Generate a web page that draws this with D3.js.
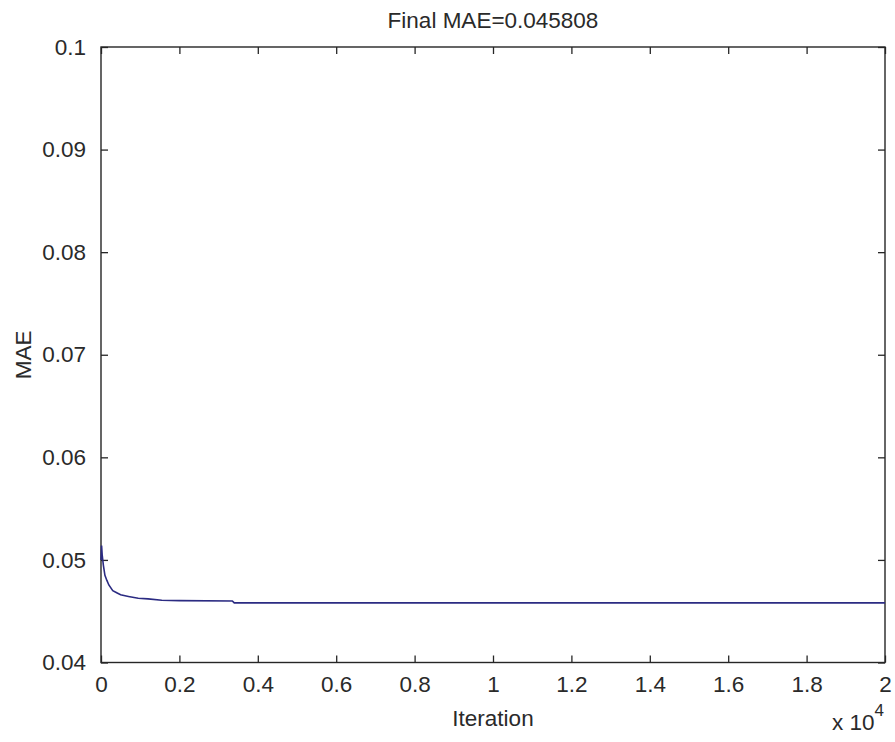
<!DOCTYPE html>
<html>
<head>
<meta charset="utf-8">
<script src="https://cdn.jsdelivr.net/npm/d3@7"></script>
<style>
  html, body { margin: 0; padding: 0; background: #fff; }
  svg { display: block; }
  text { font-family: "Liberation Sans", Arial, sans-serif; fill: #2a2a2a; }
</style>
</head>
<body>
<svg id="chart" width="895" height="742"></svg>
<script>
// Training curve: mean absolute error per iteration
const iterations = [1, 15, 30, 60, 100, 150, 200, 300, 400, 500, 700, 950, 1200, 1550, 2000, 3350, 3400, 20000];
const mae = [0.0500, 0.0514, 0.0505, 0.0495, 0.0485, 0.0480, 0.04756, 0.0470, 0.0468, 0.0466, 0.04644, 0.04626, 0.0462, 0.04607, 0.04603, 0.04600, 0.045808, 0.045808];

const xTicks = [0, 2000, 4000, 6000, 8000, 10000, 12000, 14000, 16000, 18000, 20000];
const xTickLabels = ["0", "0.2", "0.4", "0.6", "0.8", "1", "1.2", "1.4", "1.6", "1.8", "2"];
const yTicks = [0.04, 0.05, 0.06, 0.07, 0.08, 0.09, 0.1];
const yTickLabels = ["0.04", "0.05", "0.06", "0.07", "0.08", "0.09", "0.1"];
const titleText = "Final MAE=0.045808";

const svg = d3.select("#chart");
const plotLeft = 101, plotRight = 885, plotTop = 47, plotBottom = 662.5;

const x = d3.scaleLinear().domain([0, 20000]).range([plotLeft, plotRight]);
const y = d3.scaleLinear().domain([0.04, 0.1]).range([plotBottom, plotTop]);

const axisColor = "#262626";
const fontSize = 22.5;

// Inward ticks on all four sides
function styleAxis(g) {
  g.select(".domain").remove();
  g.selectAll(".tick line").attr("stroke", axisColor).attr("stroke-width", 1.3);
  g.selectAll(".tick text").attr("fill", "#2a2a2a")
    .style("font-family", '"Liberation Sans", Arial, sans-serif')
    .style("font-size", fontSize + "px");
}

svg.append("g").attr("transform", `translate(0,${plotBottom})`)
  .call(d3.axisBottom(x).tickValues(xTicks).tickSize(-7).tickPadding(14)
    .tickFormat((d, i) => xTickLabels[i]))
  .call(styleAxis);

svg.append("g").attr("transform", `translate(0,${plotTop})`)
  .call(d3.axisTop(x).tickValues(xTicks).tickSize(-7).tickFormat(""))
  .call(styleAxis);

svg.append("g").attr("transform", `translate(${plotLeft},0)`)
  .call(d3.axisLeft(y).tickValues(yTicks).tickSize(-7).tickPadding(15)
    .tickFormat((d, i) => yTickLabels[i]))
  .call(styleAxis);

svg.append("g").attr("transform", `translate(${plotRight},0)`)
  .call(d3.axisRight(y).tickValues(yTicks).tickSize(-7).tickFormat(""))
  .call(styleAxis);

// Plot frame
svg.append("rect")
  .attr("x", plotLeft).attr("y", plotTop)
  .attr("width", plotRight - plotLeft).attr("height", plotBottom - plotTop)
  .attr("fill", "none").attr("stroke", axisColor).attr("stroke-width", 1.4);

// MAE curve
const line = d3.line().x((d, i) => x(iterations[i])).y(d => y(d));
svg.append("path")
  .datum(mae)
  .attr("d", line)
  .attr("fill", "none")
  .attr("stroke", "#2b2b82")
  .attr("stroke-width", 1.6);

// Title and labels
svg.append("text")
  .attr("x", (plotLeft + plotRight) / 2).attr("y", 28)
  .attr("text-anchor", "middle")
  .style("font-size", fontSize + "px")
  .text(titleText);

svg.append("text")
  .attr("x", (plotLeft + plotRight) / 2).attr("y", 726)
  .attr("text-anchor", "middle")
  .style("font-size", fontSize + "px")
  .text("Iteration");

svg.append("text")
  .attr("transform", `translate(31,${(plotTop + plotBottom) / 2}) rotate(-90)`)
  .attr("text-anchor", "middle")
  .style("font-size", fontSize + "px")
  .text("MAE");

// Exponent marker for the x axis
const expo = svg.append("text")
  .attr("x", 832).attr("y", 730)
  .style("font-size", fontSize + "px");
expo.append("tspan").text("x 10");
expo.append("tspan").attr("dy", -14).style("font-size", "17px").text("4");
</script>
</body>
</html>
